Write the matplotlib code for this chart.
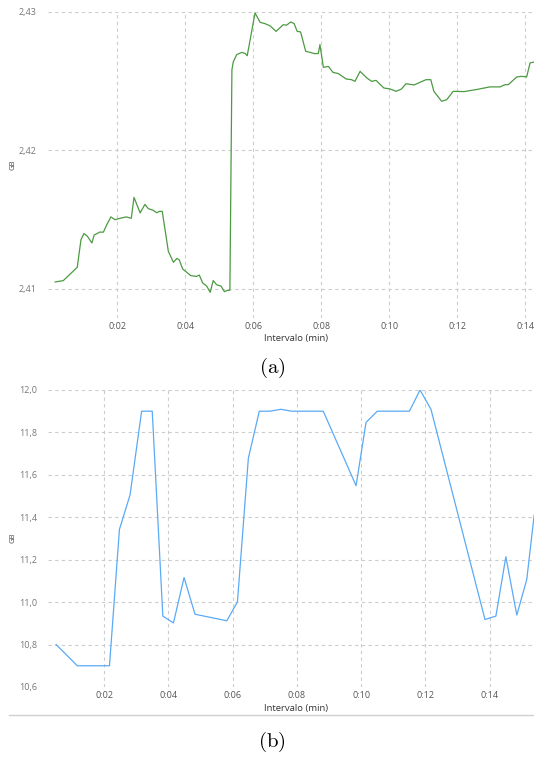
import matplotlib
matplotlib.use("Agg")
import matplotlib.pyplot as plt
from matplotlib.ticker import FuncFormatter, FixedLocator
from matplotlib.lines import Line2D

plt.rcParams['font.family'] = ['Open Sans', 'DejaVu Sans']
plt.rcParams['mathtext.fontset'] = 'cm'

# (a) memory used over time, minutes / GB
mins_a = [0.17, 0.41, 0.82, 0.93, 1.02, 1.12, 1.25, 1.32, 1.41, 1.47, 1.59, 1.69,
          1.81, 1.93, 2.08, 2.26, 2.41, 2.49, 2.67, 2.81, 2.91, 3.06, 3.16, 3.24,
          3.32, 3.42, 3.50, 3.65, 3.75, 3.82, 3.92, 4.04, 4.16, 4.33, 4.41, 4.51,
          4.63, 4.73, 4.82, 4.92, 5.05, 5.15, 5.24, 5.31, 5.37, 5.41, 5.51, 5.66,
          5.76, 5.82, 6.05, 6.20, 6.34, 6.49, 6.67, 6.88, 6.98, 7.10, 7.20, 7.29,
          7.39, 7.54, 7.67, 7.81, 7.91, 7.96, 8.06, 8.21, 8.34, 8.50, 8.73, 8.89,
          8.99, 9.14, 9.34, 9.48, 9.61, 9.84, 10.02, 10.20, 10.36, 10.49, 10.73,
          10.90, 11.08, 11.22, 11.31, 11.54, 11.69, 11.88, 12.20, 12.57, 12.96,
          13.26, 13.40, 13.50, 13.75, 13.89, 14.04, 14.14, 14.26]
gb_a = [2.4105, 2.4106, 2.41156, 2.41356, 2.4140, 2.4138, 2.41332, 2.4139, 2.4140,
        2.4141, 2.4141, 2.41464, 2.4152, 2.4150, 2.4151, 2.4152, 2.4151, 2.41661,
        2.41549, 2.4161, 2.4158, 2.41567, 2.4155, 2.4156, 2.4156, 2.4140, 2.41271,
        2.41192, 2.4122, 2.4121, 2.41144, 2.4112, 2.41096, 2.4109, 2.4110, 2.41043,
        2.4102, 2.40975, 2.4106, 2.4103, 2.4102, 2.4098, 2.4099, 2.4099, 2.42583,
        2.4264, 2.42692, 2.42708, 2.4270, 2.42684, 2.42993, 2.42925, 2.42916,
        2.4290, 2.4286, 2.42908, 2.42905, 2.42928, 2.42916, 2.4286, 2.42856,
        2.42716, 2.42708, 2.42699, 2.4270, 2.42764, 2.4260, 2.42607, 2.42564,
        2.42555, 2.42516, 2.42511, 2.42499, 2.42571, 2.42523, 2.42499, 2.42506,
        2.42451, 2.42444, 2.42427, 2.42444, 2.42482, 2.42473, 2.42492, 2.42511,
        2.42511, 2.42427, 2.42355, 2.42367, 2.42427, 2.42425, 2.4244, 2.42459,
        2.42459, 2.42475, 2.42475, 2.42531, 2.42535, 2.42531, 2.42632, 2.42639]

# (b) second run
mins_b = [0.51, 1.17, 2.17, 2.48, 2.81, 3.17, 3.50, 3.83, 4.16, 4.49, 4.83, 5.82,
          6.15, 6.49, 6.83, 7.16, 7.50, 7.84, 8.82, 9.84, 10.15, 10.50, 11.50,
          11.83, 12.17, 13.85, 14.19, 14.50, 14.84, 15.15, 15.38]
gb_b = [10.80, 10.70, 10.70, 11.343, 11.505, 11.90, 11.90, 10.934, 10.902, 11.116,
        10.943, 10.912, 11.001, 11.678, 11.90, 11.90, 11.909, 11.90, 11.90, 11.549,
        11.847, 11.90, 11.90, 12.00, 11.909, 10.918, 10.934, 11.214, 10.939, 11.107,
        11.41]

xticks = [2, 4, 6, 8, 10, 12, 14]
yticks_a = [2.41, 2.42, 2.43]
yticks_b = [10.6, 10.8, 11.0, 11.2, 11.4, 11.6, 11.8, 12.0]

fig = plt.figure(figsize=(5.34, 7.58), dpi=100)
ax_a = fig.add_axes([0.0899, 0.5805, 0.9101, 0.4037])
ax_b = fig.add_axes([0.0899, 0.0937, 0.9101, 0.3918])


def style(ax, yticks, ydec):
    for s in ax.spines.values():
        s.set_visible(False)
    ax.xaxis.set_major_locator(FixedLocator(xticks))
    ax.yaxis.set_major_locator(FixedLocator(yticks))
    ax.xaxis.set_major_formatter(FuncFormatter(lambda v, p: '0:%02d' % int(round(v))))
    ax.yaxis.set_major_formatter(
        FuncFormatter(lambda v, p: ('%.*f' % (ydec, v)).replace('.', ',')))
    ax.tick_params(length=0, labelsize=6.5, colors='#777777')
    ax.tick_params(axis='x', pad=3, labelcolor='#555555')
    ax.tick_params(axis='y', pad=8)
    ax.grid(True, color='#cccccc', linestyle=(0, (3, 3)), linewidth=0.8)
    ax.set_axisbelow(True)


ax_a.plot(mins_a, gb_a, color='#4c9a42', linewidth=0.9)
ax_a.set_xlim(-0.04, 14.256)
ax_a.set_ylim(2.4079, 2.4300)
style(ax_a, yticks_a, 2)

ax_b.plot(mins_b, gb_b, color='#5aaaf5', linewidth=0.9)
ax_b.set_xlim(0.258, 15.375)
ax_b.set_ylim(10.6, 12.0)
style(ax_b, yticks_b, 1)

for y_px in (165, 538):
    fig.text(13 / 534, 1 - y_px / 758, 'GB', rotation=90, fontsize=5.5,
             color='#444444', ha='center', va='center')
for y_px in (339, 708):
    fig.text(296 / 534, 1 - y_px / 758, 'Intervalo (min)', fontsize=6.8,
             color='#333333', ha='center', va='center')

fig.add_artist(Line2D([9 / 534, 1.0], [1 - 715 / 758] * 2, color='#d0d0d0',
                      linewidth=1.0, transform=fig.transFigure))

fig.text(272 / 534, 1 - 368 / 758, r'$\mathrm{(a)}$', fontsize=15,
         ha='center', va='center')
fig.text(272 / 534, 1 - 742 / 758, r'$\mathrm{(b)}$', fontsize=15,
         ha='center', va='center')

fig.savefig('out.png', dpi=100, facecolor='white')
